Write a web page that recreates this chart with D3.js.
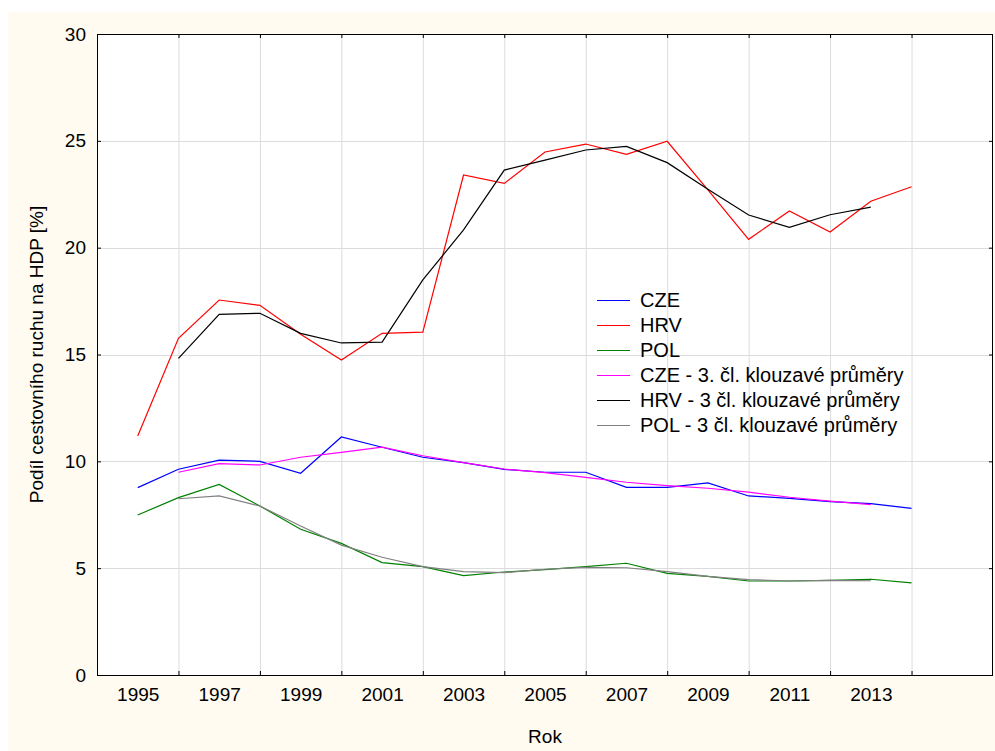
<!DOCTYPE html>
<meta charset="utf-8">
<script src="https://d3js.org/d3.v7.min.js"></script>
<style>
  body { margin: 0; background: #fff; }
  text { font-family: "Liberation Sans", Arial, sans-serif; fill: #000; }
</style>
<div id="chart"></div>
<script>

// values
var years = [1995, 1996, 1997, 1998, 1999, 2000, 2001, 2002, 2003, 2004,
             2005, 2006, 2007, 2008, 2009, 2010, 2011, 2012, 2013, 2014];
var maYears = [1996, 1997, 1998, 1999, 2000, 2001, 2002, 2003, 2004,
               2005, 2006, 2007, 2008, 2009, 2010, 2011, 2012, 2013];

var cze = [8.77, 9.63, 10.06, 10.00, 9.44, 11.14, 10.66, 10.19, 9.94, 9.62,
           9.49, 9.49, 8.78, 8.78, 8.99, 8.38, 8.27, 8.11, 8.02, 7.80];
var hrv = [11.19, 15.76, 17.55, 17.30, 15.95, 14.74, 15.99, 16.05, 23.40, 23.01,
           24.48, 24.85, 24.37, 24.98, 22.70, 20.39, 21.72, 20.73, 22.17, 22.85];
var pol = [7.49, 8.30, 8.92, 7.91, 6.82, 6.16, 5.26, 5.07, 4.65, 4.82,
           4.93, 5.07, 5.23, 4.76, 4.62, 4.40, 4.40, 4.43, 4.48, 4.31];

var czeMA = [9.49, 9.89, 9.83, 10.19, 10.42, 10.66, 10.26, 9.94, 9.64,
             9.47, 9.25, 9.02, 8.86, 8.74, 8.56, 8.32, 8.14, 7.97];
var hrvMA = [14.82, 16.88, 16.93, 15.99, 15.54, 15.58, 18.49, 20.83, 23.63,
             24.10, 24.57, 24.74, 23.98, 22.73, 21.53, 20.95, 21.54, 21.90];
var polMA = [8.25, 8.38, 7.91, 6.97, 6.08, 5.51, 5.07, 4.84, 4.79,
             4.95, 5.04, 5.02, 4.84, 4.62, 4.46, 4.40, 4.43, 4.41];

var gridYears = [1996, 1998, 2000, 2002, 2004, 2006, 2008, 2010, 2012, 2014];
var labelYears = [1995, 1997, 1999, 2001, 2003, 2005, 2007, 2009, 2011, 2013];
var yTicks = [0, 5, 10, 15, 20, 25, 30];

var series = [
  {name: "CZE", x: years, v: cze, color: "#0000ff"},
  {name: "HRV", x: years, v: hrv, color: "#ff0000"},
  {name: "POL", x: years, v: pol, color: "#008000"},
  {name: "CZE - 3. čl. klouzavé průměry", x: maYears, v: czeMA, color: "#ff00ff"},
  {name: "HRV - 3 čl. klouzavé průměry", x: maYears, v: hrvMA, color: "#000000"},
  {name: "POL - 3 čl. klouzavé průměry", x: maYears, v: polMA, color: "#808080"}
];

var W = 995, H = 751;
var margin = {top: 34, right: 2, bottom: 76, left: 97},
    width = W - margin.left - margin.right,
    height = H - margin.top - margin.bottom;

var svgRoot = d3.select("#chart").append("svg")
    .attr("width", W)
    .attr("height", H);

// cream page background
svgRoot.append("rect")
    .attr("x", 8).attr("y", 12)
    .attr("width", W - 8).attr("height", H - 12)
    .attr("fill", "#fffbf0");

var svg = svgRoot.append("g")
    .attr("transform", "translate(" + margin.left + "," + margin.top + ")");

var x = d3.scaleLinear().domain([1994, 2016]).range([0, width]);
var y = d3.scaleLinear().domain([0, 30]).range([height, 0]);

// plot area
svg.append("rect")
    .attr("width", width).attr("height", height)
    .attr("fill", "#fff");

// grid
svg.append("g")
  .selectAll("line.gx")
  .data(gridYears)
  .enter().append("line")
    .attr("x1", function(d) { return x(d) + 0.5; })
    .attr("x2", function(d) { return x(d) + 0.5; })
    .attr("y1", 0).attr("y2", height)
    .attr("stroke", "#dcdcdc");
svg.append("g")
  .selectAll("line.gy")
  .data(yTicks.slice(1, -1))
  .enter().append("line")
    .attr("y1", function(d) { return Math.round(y(d)) + 0.5; })
    .attr("y2", function(d) { return Math.round(y(d)) + 0.5; })
    .attr("x1", 0).attr("x2", width)
    .attr("stroke", "#dcdcdc");

// tick marks (inside) on all four sides
svg.append("g")
    .attr("transform", "translate(0," + height + ")")
    .call(d3.axisBottom(x).tickValues(gridYears).tickSize(-4).tickFormat(""))
    .call(function(g) { g.select(".domain").remove(); });
svg.append("g")
    .call(d3.axisTop(x).tickValues(gridYears).tickSize(-4).tickFormat(""))
    .call(function(g) { g.select(".domain").remove(); });
svg.append("g")
    .attr("transform", "translate(" + width + ",0)")
    .call(d3.axisRight(y).tickValues(yTicks).tickSize(-4).tickFormat(""))
    .call(function(g) { g.select(".domain").remove(); });

// x labels at odd years
var xLab = svg.append("g")
    .attr("transform", "translate(0," + height + ")")
    .call(d3.axisBottom(x).tickValues(labelYears).tickSize(0).tickPadding(13).tickFormat(d3.format("d")));
xLab.select(".domain").remove();
xLab.selectAll("text").style("font-size", "19px").style("font-family", "'Liberation Sans', Arial, sans-serif");

// y axis
var yAx = svg.append("g")
    .call(d3.axisLeft(y).tickValues(yTicks).tickSize(-4).tickPadding(11));
yAx.select(".domain").remove();
yAx.selectAll("text").style("font-size", "19px").style("font-family", "'Liberation Sans', Arial, sans-serif");

// frame
svg.append("rect")
    .attr("x", 0.5).attr("y", 0.5)
    .attr("width", width - 1).attr("height", height)
    .attr("fill", "none")
    .attr("stroke", "#000");

// lines
var line = d3.line()
    .x(function(d) { return x(d[0]); })
    .y(function(d) { return y(d[1]); });

svg.append("g")
  .selectAll("path.series")
  .data(series)
  .enter().append("path")
    .attr("fill", "none")
    .attr("stroke", function(d) { return d.color; })
    .attr("stroke-width", 1.2)
    .attr("d", function(d) { return line(d3.zip(d.x, d.v)); });

// legend
var legend = svg.append("g")
    .attr("transform", "translate(" + (597 - margin.left) + "," + (300 - margin.top) + ")");
var rows = legend.selectAll("g")
    .data(series)
    .enter().append("g")
    .attr("transform", function(d, i) { return "translate(0," + (i * 25) + ")"; });
rows.append("line")
    .attr("x1", 0).attr("x2", 33)
    .attr("y1", 0.5).attr("y2", 0.5)
    .attr("stroke", function(d) { return d.color; })
    .attr("stroke-width", 1.2);
rows.append("text")
    .attr("x", 43)
    .attr("y", 7)
    .style("font-size", "20px")
    .text(function(d) { return d.name; });

// axis titles
svg.append("text")
    .attr("text-anchor", "middle")
    .attr("x", width / 2)
    .attr("y", 743 - margin.top)
    .style("font-size", "19px")
    .text("Rok");

svg.append("text")
    .attr("text-anchor", "middle")
    .attr("transform", "translate(" + (43 - margin.left) + "," + (height / 2) + ") rotate(-90)")
    .style("font-size", "19px")
    .text("Podíl cestovního ruchu na HDP [%]");

</script>
